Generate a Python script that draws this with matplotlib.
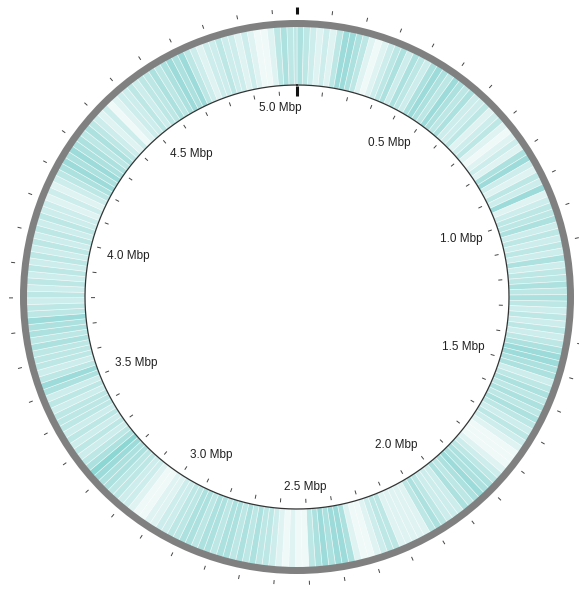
import numpy as np
import matplotlib
matplotlib.use('Agg')
import matplotlib.pyplot as plt

# genome length in Mbp and feature density per 20 kb bin (0 = none, 7 = dense)
genome_mbp = 5.07
bin_mbp = 0.02
density = [
    5, 4, 3, 2, 3,   2, 4, 6, 6, 5,   4, 2, 1, 2, 3,   4, 5, 3, 5, 4,   3, 5, 6, 5, 4,
    6, 5, 4, 5, 3,   3, 4, 2, 3, 4,   2, 1, 2, 3, 2,   5, 6, 3, 2, 4,   3, 6, 2, 3, 4,
    4, 5, 3, 4, 3,   4, 3, 5, 3, 4,   4, 5, 4, 5, 4,   3, 4, 3, 4, 3,   4, 5, 6, 6, 5,
    5, 3, 4, 5, 4,   5, 4, 5, 4, 3,   4, 3, 2, 1, 1,   1, 2, 3, 4, 5,   5, 6, 5, 4, 5,
    3, 3, 3, 4, 5,   4, 2, 2, 2, 2,   2, 4, 4, 3, 2,   1, 1, 2, 5, 6,   6, 5, 6, 5, 4,
    1, 1, 2, 1, 2,   3, 4, 4, 5, 4,   5, 4, 5, 5, 4,   5, 5, 4, 5, 5,   4, 4, 3, 3, 2,
    2, 1, 1, 2, 3,   3, 4, 4, 5, 5,   6, 7, 5, 4, 3,   4, 3, 4, 3, 4,   4, 4, 3, 4, 3,
    5, 6, 4, 3, 4,   4, 4, 5, 4, 5,   5, 6, 4, 4, 3,   4, 3, 4, 3, 4,   3, 4, 3, 4, 3,
    4, 3, 4, 3, 3,   2, 3, 2, 3, 4,   5, 6, 5, 6, 5,   5, 4, 5, 4, 3,   2, 3, 1, 2, 3,
    3, 4, 3, 4, 4,   5, 4, 5, 6, 5,   6, 4, 3, 2, 3,   3, 4, 3, 3, 2,   3, 2, 1, 1, 2,
    4, 5, 4, 4,
]
label_mbp = [0.5, 1.0, 1.5, 2.0, 2.5, 3.0, 3.5, 4.0, 4.5, 5.0]
tick_step = 0.1

def to_theta(mbp):
    return np.asarray(mbp) / genome_mbp * 2 * np.pi

fig = plt.figure(figsize=(5.79, 5.91), dpi=100)
# axes scaled so that 1 data unit = 1 pixel, centre at (297, 297)
R = 292
ax = fig.add_axes([(297 - R) / 579, (591 - 297 - R) / 591, 2 * R / 579, 2 * R / 591],
                  projection='polar')
ax.set_theta_zero_location('N')
ax.set_theta_direction(-1)
ax.set_ylim(0, R)
ax.axis('off')

r_in, r_out = 212, 271

# feature density band
starts = np.arange(len(density)) * bin_mbp
widths = np.minimum(bin_mbp, genome_mbp - starts)
alphas = np.clip(np.array(density) / 7 * 0.62, 0, 1)
cols = [(0.27, 0.74, 0.72, a) for a in alphas]
ax.bar(to_theta(starts), r_out - r_in, width=to_theta(widths), bottom=r_in,
       align='edge', color=cols, edgecolor=(1, 1, 1, 0.6), linewidth=0.5)

# outer grey ring and inner circle
ax.bar(0, 7, width=2 * np.pi, bottom=270, color='#808080', linewidth=0)
circ = np.linspace(0, 2 * np.pi, 720)
ax.plot(circ, np.full_like(circ, r_in), color='#333333', lw=0.9)

# tick marks every 0.1 Mbp, inside inner circle and outside grey ring
ticks = np.arange(0, genome_mbp, tick_step)
ax.vlines(to_theta(ticks[1:]), 202, 206, color='#444444', lw=0.7)
ax.vlines(to_theta(ticks[1:]), 284, 288, color='#444444', lw=0.7)
ax.vlines(0, 201, 211, color='#111111', lw=2.2)
ax.vlines(0, 283, 290, color='#111111', lw=2.2)

# position labels
for m in label_mbp:
    th = float(to_theta(m))
    s, c = np.sin(th), np.cos(th)
    ha = 'center' if abs(s) < 0.2 else ('right' if s > 0 else 'left')
    va = 'top' if c > 0 else 'bottom'
    ax.text(th, 196, f'{m:.1f} Mbp', ha=ha, va=va, fontsize=8.5,
            family=['Liberation Sans', 'DejaVu Sans'], color='#222222')

fig.savefig('out.png', dpi=100)
